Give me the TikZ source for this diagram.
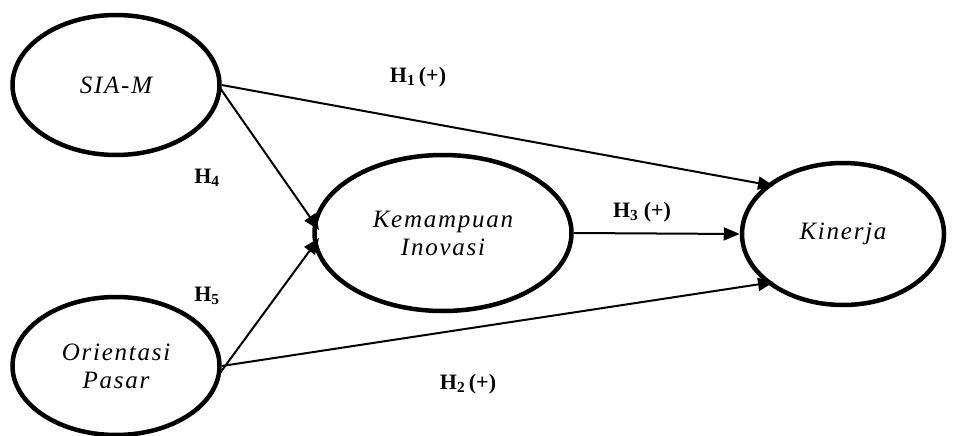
\documentclass[tikz,border=0pt]{standalone}
\usepackage{fontspec}
\setmainfont{Liberation Serif}
\newfontfamily\ellfont[LetterSpace=7]{Liberation Serif}
\usetikzlibrary{shapes.geometric,arrows.meta}
\begin{document}
\begin{tikzpicture}[x=1pt,y=-1pt,
  latent/.style={draw,line width=4.5pt,ellipse,minimum width=#1,align=center,font=\ellfont\fontsize{25}{28}\selectfont\itshape,inner sep=0pt},
  path/.style={line width=2pt,-{Triangle[length=16pt,width=13pt]}},
  hlab/.style={font=\fontsize{22}{24}\selectfont\bfseries,inner sep=0pt}]
\useasboundingbox (0,0) rectangle (959,436);
\node[latent=207pt,minimum height=140pt] (sia) at (116,85) {SIA-M};
\node[latent=207pt,minimum height=138pt] (op) at (116,366) {Orientasi\\Pasar};
\node[latent=257pt,minimum height=156pt] (ki) at (443,233) {Kemampuan\\Inovasi};
\node[latent=202pt,minimum height=142pt] (kin) at (843,234) {Kinerja};
\coordinate (sa) at (220,88);
\coordinate (oa) at (220,373);
\draw[path] (sia.east) -- (774,186);
\draw[path] (sa) -- (319,230);
\draw[path] (oa) -- (319,238);
\draw[path] (op.east) -- (774,282);
\draw[path] (ki.east) -- (kin.west);
\node[hlab] (h1) at (418,77) {H\textsubscript{1}\,(+)};
\node[hlab] (h4) at (207,178) {H\textsubscript{4}};
\node[hlab] (h3) at (642,212) {H\textsubscript{3} (+)};
\node[hlab] (h5) at (207,296) {H\textsubscript{5}};
\node[hlab] (h2) at (468,384) {H\textsubscript{2}\,(+)};
\end{tikzpicture}
\end{document}
